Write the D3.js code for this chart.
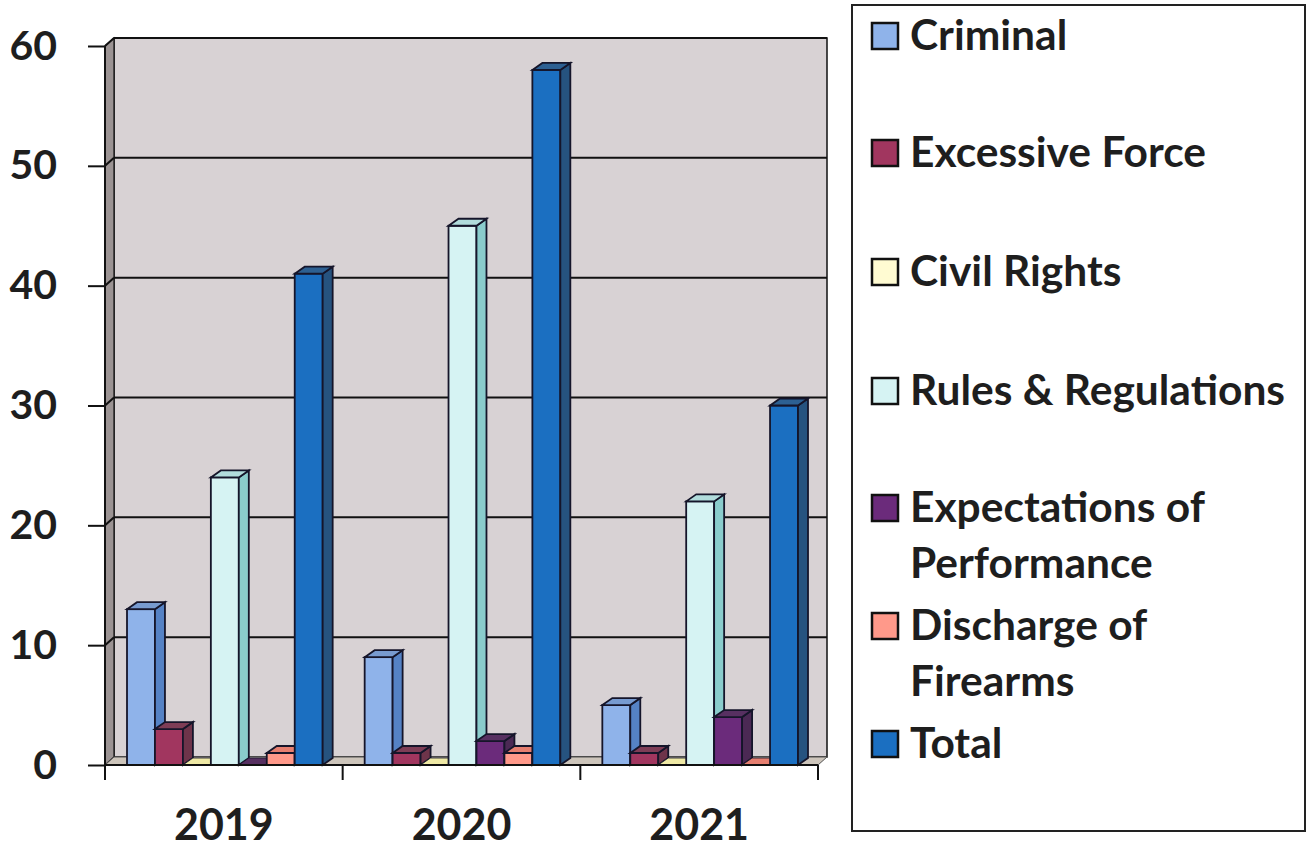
<!DOCTYPE html>
<html>
<head>
<meta charset="utf-8">
<script src="https://cdn.jsdelivr.net/npm/d3@7"></script>
<style>
  body { margin: 0; background: #fff; }
  text { font-family: Lato, "Open Sans", sans-serif; font-weight: bold; fill: #1e1e1e; }
</style>
</head>
<body>
<div id="container"></div>
<script>
/* DATA */
const years = ["2019", "2020", "2021"];
const seriesNames = ["Criminal", "Excessive Force", "Civil Rights", "Rules & Regulations",
                     "Expectations of Performance", "Discharge of Firearms", "Total"];
const criminal     = [13, 9, 5];
const excessive    = [3, 1, 1];
const civilRights  = [0, 0, 0];
const rules        = [24, 45, 22];
const expectations = [0, 2, 4];
const discharge    = [1, 1, 0];
const total        = [41, 58, 30];
const yTicks = [0, 10, 20, 30, 40, 50, 60];
const legendLines = [["Criminal"], ["Excessive Force"], ["Civil Rights"], ["Rules & Regulations"],
                     ["Expectations of", "Performance"], ["Discharge of", "Firearms"], ["Total"]];

const seriesValues = [criminal, excessive, civilRights, rules, expectations, discharge, total];
const colors = ["#8fb3ea", "#a1365f", "#fffbd2", "#d6f3f3", "#6b2b7b", "#ff998a", "#1b6fc1"];

/* CONSTANTS */
const width = 1308, height = 848;
const plotLeft = 105, plotRight = 818, plotBottom = 765, plotTop = 46;
const wallDx = 9, wallDy = -8;     // depth of walls / floor
const barDx = 10, barDy = -7;      // depth of bars

const svg = d3.select("#container").append("svg")
  .attr("width", width).attr("height", height);

/* SCALES */
const yScale = d3.scaleLinear().domain([0, 60]).range([plotBottom, plotTop]);
const x0 = d3.scaleBand().domain(years).range([plotLeft, plotRight]);
const x1 = d3.scaleBand().domain(seriesNames).range([22, x0.bandwidth() - 20]);
const colorScale = d3.scaleOrdinal().domain(seriesNames).range(colors);

/* WALLS */
// back wall
svg.append("rect")
  .attr("x", plotLeft + wallDx).attr("y", plotTop + wallDy)
  .attr("width", plotRight - plotLeft).attr("height", plotBottom - plotTop)
  .attr("fill", "#d8d2d4").attr("stroke", "#111").attr("stroke-width", 1.5);
// left side wall
svg.append("polygon")
  .attr("points", [[plotLeft, plotTop], [plotLeft + wallDx, plotTop + wallDy], [plotLeft + wallDx, plotBottom + wallDy], [plotLeft, plotBottom]].join(" "))
  .attr("fill", "#9b9393").attr("stroke", "#111").attr("stroke-width", 1.2);
// floor
svg.append("polygon")
  .attr("points", [[plotLeft, plotBottom], [plotLeft + wallDx, plotBottom + wallDy], [plotRight + wallDx, plotBottom + wallDy], [plotRight, plotBottom]].join(" "))
  .attr("fill", "#cdc5bb").attr("stroke", "#555").attr("stroke-width", 1);

// gridlines on back wall plus the bend on the side wall
const grid = svg.append("g");
grid.selectAll("line.back")
  .data(yTicks.filter(d => d > 0))
  .join("line").attr("class", "back")
  .attr("x1", plotLeft + wallDx).attr("x2", plotRight + wallDx)
  .attr("y1", d => yScale(d) + wallDy).attr("y2", d => yScale(d) + wallDy)
  .attr("stroke", "#111").attr("stroke-width", 2);
grid.selectAll("line.side")
  .data(yTicks.filter(d => d > 0))
  .join("line").attr("class", "side")
  .attr("x1", plotLeft).attr("x2", plotLeft + wallDx)
  .attr("y1", d => yScale(d)).attr("y2", d => yScale(d) + wallDy)
  .attr("stroke", "#111").attr("stroke-width", 2);

/* BARS */
const bars = [];
years.forEach((yr, i) => {
  seriesNames.forEach((s, j) => {
    bars.push({ year: yr, series: s, value: seriesValues[j][i] });
  });
});

const barG = svg.append("g").selectAll("g")
  .data(bars)
  .join("g");

barG.each(function(d) {
  const g = d3.select(this);
  const x = x0(d.year) + x1(d.series);
  const w = x1.bandwidth();
  const yTop = yScale(d.value);
  const base = yScale(0);
  const c = d3.hsl(colorScale(d.series));
  const side = d3.hsl(c.h, c.s * 0.72, c.l * 0.75);
  const topFace = d3.hsl(c.h, c.s * 0.7, c.l * 0.87);
  const outline = "#15152a";
  if (d.value > 0) {
    g.append("rect")
      .attr("x", x).attr("y", yTop).attr("width", w).attr("height", base - yTop)
      .attr("fill", c.formatHex()).attr("stroke", outline).attr("stroke-width", 1.8);
    g.append("polygon")
      .attr("points", [[x + w, yTop], [x + w + barDx, yTop + barDy], [x + w + barDx, base + barDy], [x + w, base]].join(" "))
      .attr("fill", side.formatHex()).attr("stroke", outline).attr("stroke-width", 1.8);
  }
  g.append("polygon")
    .attr("points", [[x, yTop], [x + barDx, yTop + barDy], [x + w + barDx, yTop + barDy], [x + w, yTop]].join(" "))
    .attr("fill", topFace.formatHex()).attr("stroke", outline).attr("stroke-width", d.value > 0 ? 1.8 : 0.8);
});

/* AXES */
// y axis
svg.append("g")
  .attr("transform", `translate(${plotLeft},0)`)
  .call(d3.axisLeft(yScale).tickValues(yTicks).tickSize(17).tickPadding(31))
  .call(g => g.select(".domain").remove())
  .call(g => g.selectAll(".tick line").attr("stroke", "#111").attr("stroke-width", 2))
  .call(g => g.selectAll(".tick text").attr("font-size", 41).attr("fill", "#1e1e1e")
    .style("font-family", "Lato, sans-serif").style("font-weight", "bold"));

svg.append("line")
  .attr("x1", plotLeft).attr("x2", plotLeft).attr("y1", plotTop).attr("y2", plotBottom + 15)
  .attr("stroke", "#111").attr("stroke-width", 2);
svg.append("line")
  .attr("x1", plotLeft).attr("x2", plotRight).attr("y1", plotBottom).attr("y2", plotBottom)
  .attr("stroke", "#111").attr("stroke-width", 2);

// category edge ticks
const edges = years.map(d => x0(d)).concat([x0(years[years.length - 1]) + x0.bandwidth()]);
svg.append("g").selectAll("line")
  .data(edges)
  .join("line")
  .attr("x1", d => d).attr("x2", d => d)
  .attr("y1", plotBottom).attr("y2", plotBottom + 15)
  .attr("stroke", "#111").attr("stroke-width", 2);

// year labels
svg.append("g")
  .attr("transform", `translate(0,${plotBottom})`)
  .call(d3.axisBottom(x0).tickSize(0))
  .call(g => g.select(".domain").remove())
  .call(g => g.selectAll(".tick text").attr("y", 75).attr("dy", 0).attr("font-size", 43)
    .attr("fill", "#1e1e1e").style("font-family", "Lato, sans-serif").style("font-weight", "bold"));

/* LEGEND */
const legend = svg.append("g");
legend.append("rect")
  .attr("x", 852).attr("y", 5).attr("width", 453).attr("height", 826)
  .attr("fill", "#fff").attr("stroke", "#222").attr("stroke-width", 2);

const legendBaselines = [50, 167, 286, 405, 522, 640, 758];
const legendItems = legend.selectAll("g.item")
  .data(seriesNames)
  .join("g").attr("class", "item")
  .attr("transform", (d, i) => `translate(872,${legendBaselines[i]})`);

legendItems.append("rect")
  .attr("x", 0).attr("y", -27).attr("width", 26).attr("height", 26)
  .attr("fill", d => colorScale(d)).attr("stroke", "#111").attr("stroke-width", 2.5);

legendItems.each(function(d, i) {
  d3.select(this).selectAll("text")
    .data(legendLines[i])
    .join("text")
    .attr("x", 38)
    .attr("y", (t, k) => k * 56)
    .attr("font-size", 42.5)
    .text(t => t);
});
</script>
</body>
</html>
